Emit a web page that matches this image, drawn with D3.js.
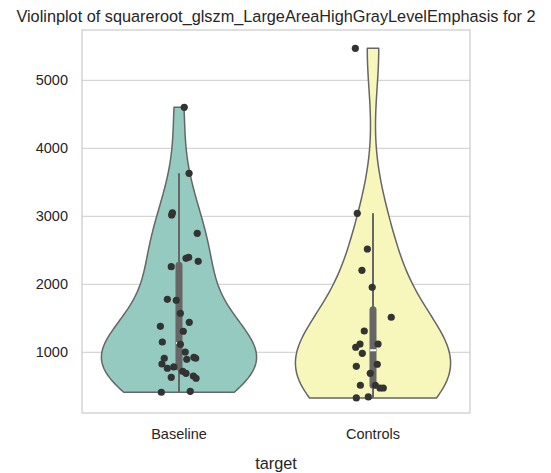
<!DOCTYPE html>
<html>
<head>
<meta charset="utf-8">
<script src="https://cdn.jsdelivr.net/npm/d3@7"></script>
<style>
  body { margin: 0; background: #fff; }
  svg { display: block; font-family: "Liberation Sans", Arial, sans-serif; }
</style>
</head>
<body>
<svg id="chart" width="551" height="473"></svg>
<script>
// categories and values
const categories = ['Baseline', 'Controls'];
const baselineValues = [4603, 3632, 3019, 3050, 2750, 2382, 2397, 2338, 2259, 1779, 1765, 1574, 1382, 1441, 1309, 1151,
  1118, 1004, 912, 897, 926, 912, 828, 765, 784, 721, 691, 632, 651, 618, 412, 426];
// strip jitter, as a fraction of the category band
const baselineJitter = [0.027, 0.052, -0.038, -0.034, 0.094, 0.036, 0.050, 0.099, -0.040, -0.060, -0.014, 0.007, -0.096, 0.053, 0.022, -0.086,
  0.007, 0.032, -0.076, 0.040, 0.077, 0.086, -0.088, -0.060, -0.027, 0.019, 0.036, -0.040, 0.074, 0.088, -0.091, 0.058];
const controlsValues = [5470, 3044, 2519, 2206, 1956, 1515, 1313, 1122, 1074, 1122, 985, 794, 824, 691, 515, 515, 475, 475, 328, 343];
const controlsJitter = [-0.091, -0.081, -0.029, -0.057, -0.004, 0.094, -0.045, -0.067, -0.089, 0.026, -0.055, -0.086, 0.022, -0.014,
  -0.065, 0.012, 0.036, 0.053, -0.086, -0.024];
const colors = ['#95cac0', '#f7f7bb'];
const yTicks = [1000, 2000, 3000, 4000, 5000];

const svg = d3.select('#chart');
const margin = { top: 30, right: 81, bottom: 60, left: 82 };
const width = 551, height = 473;

const x = d3.scaleBand()
  .domain(categories)
  .range([margin.left, width - margin.right]);

const y = d3.scaleLinear()
  .domain([107, 5740])
  .range([height - margin.bottom, margin.top]);

// grid
svg.append('g')
  .selectAll('line')
  .data(yTicks)
  .join('line')
  .attr('x1', margin.left)
  .attr('x2', width - margin.right)
  .attr('y1', d => y(d))
  .attr('y2', d => y(d))
  .attr('stroke', '#cccccc')
  .attr('stroke-width', 1);

// y axis labels
const yAxis = svg.append('g')
  .attr('transform', `translate(${margin.left},0)`)
  .call(d3.axisLeft(y).tickValues(yTicks).tickFormat(d3.format('d')).tickSize(0).tickPadding(14));
yAxis.select('.domain').remove();
yAxis.selectAll('text').attr('font-size', '14.5px').attr('fill', '#262626').attr('font-family', '"Liberation Sans", Arial, sans-serif');

// x axis labels
const xAxis = svg.append('g')
  .attr('transform', `translate(0,${height - margin.bottom})`)
  .call(d3.axisBottom(x).tickSize(0).tickPadding(16));
xAxis.select('.domain').remove();
xAxis.selectAll('text').attr('font-size', '14.5px').attr('fill', '#262626').attr('font-family', '"Liberation Sans", Arial, sans-serif');

// gaussian kde, scott bandwidth, cut = 0
function kde(values) {
  const n = values.length;
  const bw = d3.deviation(values) * Math.pow(n, -0.2);
  const lo = d3.min(values), hi = d3.max(values);
  const grid = d3.range(100).map(i => lo + (hi - lo) * i / 99);
  return grid.map(g => [g, d3.sum(values, v => Math.exp(-0.5 * ((g - v) / bw) ** 2)) / (n * bw * Math.sqrt(2 * Math.PI))]);
}

const groups = [
  { name: 'Baseline', values: baselineValues, jitter: baselineJitter },
  { name: 'Controls', values: controlsValues, jitter: controlsJitter }
];

const half = x.bandwidth() * 0.4;

groups.forEach((grp, i) => {
  const cx = x(grp.name) + x.bandwidth() / 2;
  const dens = kde(grp.values);
  const maxD = d3.max(dens, d => d[1]);
  const w = d3.scaleLinear().domain([0, maxD]).range([0, half]);

  const area = d3.area()
    .x0(d => cx - w(d[1]))
    .x1(d => cx + w(d[1]))
    .y(d => y(d[0]))
    .curve(d3.curveLinear);

  svg.append('path')
    .datum(dens)
    .attr('d', area)
    .attr('fill', colors[i])
    .attr('stroke', '#666666')
    .attr('stroke-width', 1.5)
    .attr('stroke-linejoin', 'round');

  // inner box
  const sorted = grp.values.slice().sort(d3.ascending);
  const q1 = d3.quantile(sorted, 0.25);
  const med = d3.quantile(sorted, 0.5);
  const q3 = d3.quantile(sorted, 0.75);
  const iqr = q3 - q1;
  const wLo = d3.min(sorted.filter(v => v >= q1 - 1.5 * iqr));
  const wHi = d3.max(sorted.filter(v => v <= q3 + 1.5 * iqr));

  svg.append('line')
    .attr('x1', cx).attr('x2', cx)
    .attr('y1', y(wLo)).attr('y2', y(wHi))
    .attr('stroke', '#666666')
    .attr('stroke-width', 2);

  svg.append('line')
    .attr('x1', cx).attr('x2', cx)
    .attr('y1', y(q1)).attr('y2', y(q3))
    .attr('stroke', '#666666')
    .attr('stroke-width', 7)
    .attr('stroke-linecap', 'round');

  svg.append('line')
    .attr('x1', cx - 3).attr('x2', cx + 3)
    .attr('y1', y(med)).attr('y2', y(med))
    .attr('stroke', '#ffffff')
    .attr('stroke-width', 2);
});

// strip points
groups.forEach(grp => {
  const cx = x(grp.name) + x.bandwidth() / 2;
  svg.append('g')
    .selectAll('circle')
    .data(grp.values)
    .join('circle')
    .attr('cx', (d, j) => cx + grp.jitter[j] * x.bandwidth())
    .attr('cy', d => y(d))
    .attr('r', 3.6)
    .attr('fill', '#333333');
});

// frame
svg.append('rect')
  .attr('x', margin.left)
  .attr('y', margin.top)
  .attr('width', width - margin.left - margin.right)
  .attr('height', height - margin.top - margin.bottom)
  .attr('fill', 'none')
  .attr('stroke', '#cccccc')
  .attr('stroke-width', 1.25);

// title and axis label
svg.append('text')
  .attr('x', 276)
  .attr('y', 22)
  .attr('text-anchor', 'middle')
  .attr('font-size', '16.3px')
  .attr('fill', '#262626')
  .text('Violinplot of squareroot_glszm_LargeAreaHighGrayLevelEmphasis for 2');

svg.append('text')
  .attr('x', x.range()[0] + (x.range()[1] - x.range()[0]) / 2)
  .attr('y', 469)
  .attr('text-anchor', 'middle')
  .attr('font-size', '16.3px')
  .attr('fill', '#262626')
  .text('target');
</script>
</body>
</html>
